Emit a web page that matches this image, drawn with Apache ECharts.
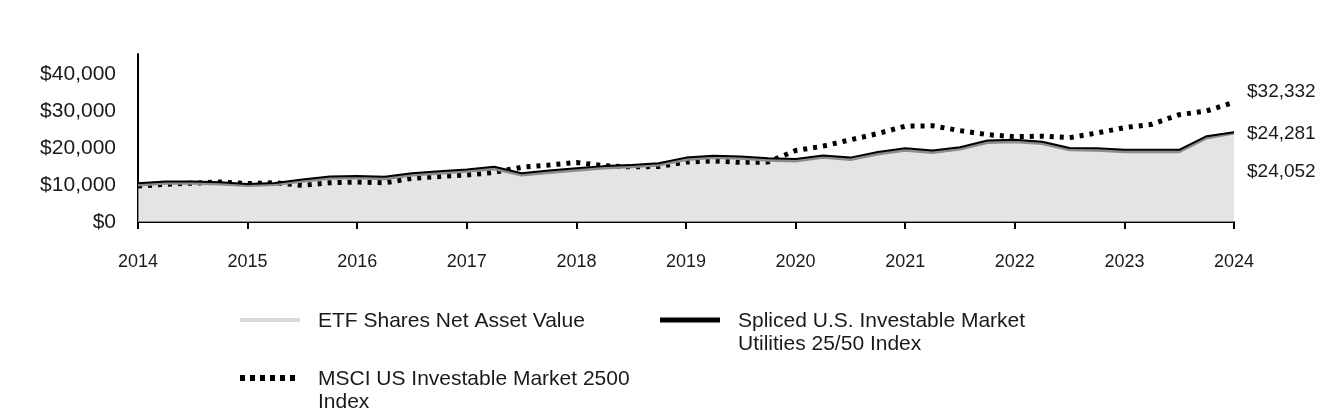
<!DOCTYPE html>
<html><head><meta charset="utf-8">
<script src="https://cdn.jsdelivr.net/npm/echarts@6/dist/echarts.min.js"></script>
<style>html,body{margin:0;padding:0;background:#fff}#c{width:1344px;height:420px}</style>
</head><body><div id="c"></div>
<script>
const quarters = [
  '2014','2014Q2','2014Q3','2014Q4',
  '2015','2015Q2','2015Q3','2015Q4',
  '2016','2016Q2','2016Q3','2016Q4',
  '2017','2017Q2','2017Q3','2017Q4',
  '2018','2018Q2','2018Q3','2018Q4',
  '2019','2019Q2','2019Q3','2019Q4',
  '2020','2020Q2','2020Q3','2020Q4',
  '2021','2021Q2','2021Q3','2021Q4',
  '2022','2022Q2','2022Q3','2022Q4',
  '2023','2023Q2','2023Q3','2023Q4',
  '2024'
];
const etfNav = [
  10000,10500,10500,10300, 9850,10100,11000,11800,
  11950,11700,12700,13200,13700,14400,12700,13400,
  14000,14600,14900,15400,16900,17400,17200,16700,
  16500,17500,16900,18400,19400,18800,19700,21500,
  21700,21200,19500,19400,19000,19000,19000,22700,
  24052
];
const splicedIndex = [
  10480,10940,10940,10750,10290,10560,11500,12300,
  12450,12200,13200,13700,14200,14950,13200,13900,
  14500,15100,15400,15900,17400,17900,17700,17200,
  17000,18000,17400,18900,19900,19300,20200,22000,
  22200,21700,20000,19900,19500,19500,19500,23200,
  24281
];
const msciIndex = [
   9700,10200,10500,10800,10400,10600, 9900,10600,
  10800,10600,11800,12300,12700,13400,14800,15400,
  16100,15200,14900,15000,16200,16500,16100,16200,
  19300,20500,22200,23900,25900,26000,24700,23600,
  23050,23200,22800,24050,25500,26400,29000,30000,
  32332
];
const yTicks = { min: 0, max: 45400, interval: 10000 };
const names = {
  etf: 'ETF Shares Net Asset Value',
  spliced: 'Spliced U.S. Investable Market\nUtilities 25/50 Index',
  msci: 'MSCI US Investable Market 2500\nIndex'
};

const money = v => '$' + Number(v).toLocaleString('en-US');
const font = 'Arial, "Liberation Sans", Helvetica, sans-serif';
const txt = '#1a1a1a';

const chart = echarts.init(document.getElementById('c'), null, { renderer: 'canvas' });
chart.setOption({
  animation: false,
  backgroundColor: '#fff',
  grid: { left: 138, right: 110, top: 54, bottom: 198, containLabel: false },
  xAxis: {
    type: 'category',
    data: quarters,
    boundaryGap: false,
    axisLine: { show: true, lineStyle: { color: '#000', width: 2 } },
    axisTick: { show: true, interval: 3, length: 7, lineStyle: { color: '#000', width: 2 } },
    axisLabel: {
      interval: 3, margin: 31, color: txt, fontSize: 18, fontFamily: font,
      formatter: v => (/^\d{4}$/.test(v) ? v : '')
    },
    splitLine: { show: false }
  },
  yAxis: {
    type: 'value',
    min: yTicks.min, max: yTicks.max, interval: yTicks.interval,
    axisLine: { show: true, lineStyle: { color: '#000', width: 2 } },
    axisTick: { show: false },
    splitLine: { show: false },
    axisLabel: {
      showMaxLabel: false, margin: 22, color: txt, fontSize: 21, fontFamily: font,
      formatter: v => money(v)
    }
  },
  series: [
    {
      name: names.msci, type: 'line', data: msciIndex, symbol: 'none',
      lineStyle: { color: '#000', width: 5, type: [4, 6], cap: 'butt' },
      endLabel: { show: true, formatter: p => money(p.value), offset: [5, -11],
        color: txt, fontSize: 19, fontFamily: font }
    },
    {
      name: names.etf, type: 'line', data: etfNav, symbol: 'none',
      lineStyle: { color: '#8c8c8c', width: 3 },
      areaStyle: { color: 'rgb(214,214,214)', opacity: 0.65 },
      endLabel: { show: true, formatter: p => money(p.value), offset: [5, 39],
        color: txt, fontSize: 19, fontFamily: font }
    },
    {
      name: names.spliced, type: 'line', data: splicedIndex, symbol: 'none',
      lineStyle: { color: '#000', width: 2 },
      endLabel: { show: true, formatter: p => money(p.value), offset: [5, 2],
        color: txt, fontSize: 19, fontFamily: font }
    }
  ],
  graphic: [
    { type: 'line', shape: { x1: 240, y1: 320, x2: 300, y2: 320 }, style: { stroke: '#d9d9d9', lineWidth: 4 } },
    { type: 'text', left: 318, top: 310, style: { text: names.etf, fill: txt, font: '21px ' + font, lineHeight: 23 } },
    { type: 'line', shape: { x1: 660, y1: 320, x2: 720, y2: 320 }, style: { stroke: '#000', lineWidth: 5 } },
    { type: 'text', left: 738, top: 310, style: { text: names.spliced, fill: txt, font: '21px ' + font, lineHeight: 23 } },
    { type: 'line', shape: { x1: 240, y1: 378, x2: 297, y2: 378 }, style: { stroke: '#000', lineWidth: 6, lineDash: [5, 5] } },
    { type: 'text', left: 318, top: 368, style: { text: names.msci, fill: txt, font: '21px ' + font, lineHeight: 23 } }
  ]
});
</script>
</body></html>
